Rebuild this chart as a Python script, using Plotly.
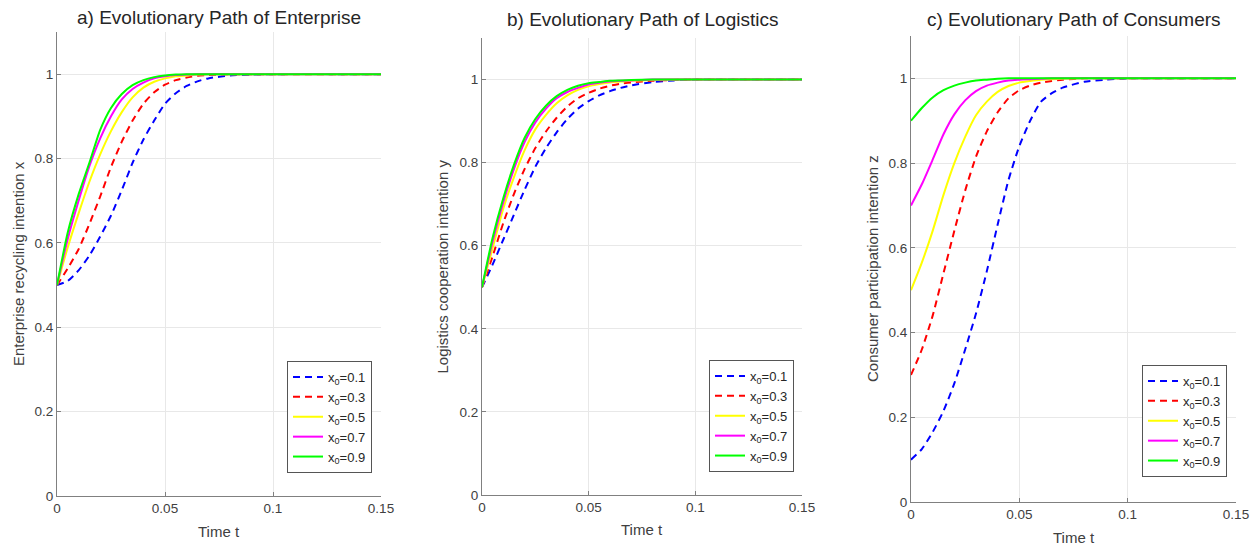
import plotly.graph_objects as go

# page offset of the plot inside the browser body (default 8px body margin)
OFF = 8
W, H = 1259 - OFF, 546 - OFF

# time grid (shared)
T = [0, 0.005, 0.01, 0.015, 0.02, 0.025, 0.03, 0.035, 0.04, 0.045, 0.05,
     0.055, 0.06, 0.065, 0.07, 0.08, 0.09, 0.1, 0.15]

LABELS = ["x<sub>0</sub>=0.1", "x<sub>0</sub>=0.3", "x<sub>0</sub>=0.5",
          "x<sub>0</sub>=0.7", "x<sub>0</sub>=0.9"]
COLORS = ["#0000ff", "#ff0000", "#ffff00", "#ff00ff", "#00ff00"]
DASHES = ["7px,5px", "7px,5px", "solid", "solid", "solid"]

# a) Enterprise recycling intention x
A_01 = [0.5, 0.51, 0.535, 0.57, 0.615, 0.665, 0.725, 0.79, 0.845, 0.89, 0.93,
        0.955, 0.972, 0.983, 0.99, 0.997, 0.999, 1, 1]
A_03 = [0.5, 0.54, 0.585, 0.645, 0.71, 0.78, 0.84, 0.89, 0.93, 0.957, 0.975,
        0.986, 0.992, 0.996, 0.998, 1, 1, 1, 1]
A_05 = [0.5, 0.59, 0.67, 0.745, 0.81, 0.865, 0.91, 0.945, 0.968, 0.982, 0.99,
        0.995, 0.997, 0.999, 1, 1, 1, 1, 1]
A_07 = [0.5, 0.61, 0.7, 0.782, 0.848, 0.9, 0.94, 0.965, 0.98, 0.99, 0.995,
        0.998, 0.999, 1, 1, 1, 1, 1, 1]
A_09 = [0.5, 0.625, 0.715, 0.79, 0.868, 0.92, 0.953, 0.974, 0.986, 0.993, 0.997,
        0.999, 1, 1, 1, 1, 1, 1, 1]

# b) Logistics cooperation intention y
B_01 = [0.5, 0.555, 0.615, 0.675, 0.735, 0.79, 0.835, 0.873, 0.905, 0.93, 0.948,
        0.962, 0.972, 0.98, 0.986, 0.994, 0.998, 1, 1]
B_03 = [0.5, 0.575, 0.655, 0.725, 0.785, 0.835, 0.875, 0.908, 0.935, 0.955, 0.968,
        0.978, 0.985, 0.99, 0.993, 0.997, 0.999, 1, 1]
B_05 = [0.5, 0.595, 0.69, 0.765, 0.83, 0.88, 0.915, 0.943, 0.962, 0.975, 0.984,
        0.989, 0.993, 0.995, 0.997, 0.999, 1, 1, 1]
B_07 = [0.5, 0.61, 0.705, 0.785, 0.85, 0.897, 0.93, 0.955, 0.97, 0.98, 0.988,
        0.992, 0.995, 0.997, 0.998, 1, 1, 1, 1]
B_09 = [0.5, 0.62, 0.715, 0.795, 0.86, 0.905, 0.937, 0.96, 0.975, 0.985, 0.991,
        0.994, 0.997, 0.998, 0.999, 1, 1, 1, 1]

# c) Consumer participation intention z
C_01 = [0.1, 0.125, 0.165, 0.215, 0.28, 0.36, 0.445, 0.545, 0.655, 0.76, 0.84,
        0.9, 0.945, 0.965, 0.978, 0.992, 0.997, 1, 1]
C_03 = [0.3, 0.36, 0.44, 0.54, 0.64, 0.735, 0.815, 0.875, 0.92, 0.953, 0.972,
        0.983, 0.99, 0.994, 0.997, 1, 1, 1, 1]
C_05 = [0.5, 0.565, 0.64, 0.725, 0.8, 0.862, 0.913, 0.945, 0.968, 0.982, 0.99,
        0.994, 0.997, 0.998, 0.999, 1, 1, 1, 1]
C_07 = [0.7, 0.75, 0.808, 0.868, 0.915, 0.948, 0.97, 0.983, 0.99, 0.995, 0.997,
        0.998, 0.999, 1, 1, 1, 1, 1, 1]
C_09 = [0.9, 0.93, 0.955, 0.972, 0.983, 0.99, 0.995, 0.997, 0.999, 1, 1,
        1, 1, 1, 1, 1, 1, 1, 1]

TITLES = ["a) Evolutionary Path of Enterprise",
          "b) Evolutionary Path of Logistics",
          "c) Evolutionary Path of Consumers"]
YTITLES = ["Enterprise recycling intention x",
           "Logistics cooperation intention y",
           "Consumer participation intention z"]
XTITLE = "Time t"
X_TICKS = [0, 0.05, 0.1, 0.15]
X_TICKTEXT = ["0", "0.05", "0.1", "0.15"]
Y_TICKS = [0, 0.2, 0.4, 0.6, 0.8, 1]
Y_TICKTEXT = ["0", "0.2", "0.4", "0.6", "0.8", "1"]

PANELS = [[A_01, A_03, A_05, A_07, A_09],
          [B_01, B_03, B_05, B_07, B_09],
          [C_01, C_03, C_05, C_07, C_09]]

# pixel boxes of plot areas in screen pixels (left, right, top, bottom)
BOXES = [(57, 381, 32, 496), (482, 802, 38, 495), (911, 1236, 36, 502)]
LEGEND_POS = [(372, 473), (794, 472), (1227, 477)]
TITLE_Y = [17, 19, 19]
XTITLE_Y = [531, 529, 537]
YTITLE_X = [18, 442, 872]

def px(x):
    return (x - OFF) / W

def py(y):
    return 1 - (y - OFF) / H

fig = go.Figure()
for p, series in enumerate(PANELS):
    sfx = "" if p == 0 else str(p + 1)
    for i, vals in enumerate(series):
        fig.add_trace(go.Scatter(
            x=T, y=vals, mode="lines", name=LABELS[i],
            line=dict(color=COLORS[i], width=2, dash=DASHES[i],
                      shape="spline", smoothing=0.6),
            xaxis="x" + sfx, yaxis="y" + sfx,
            legend="legend" + sfx, showlegend=True))

layout = dict(width=W, height=H, margin=dict(l=0, r=0, t=0, b=0, autoexpand=False),
              paper_bgcolor="white", plot_bgcolor="white",
              font=dict(family="Liberation Sans, Arial, sans-serif", color="#404040"))
annotations = []
for p, (l, r, t, b) in enumerate(BOXES):
    sfx = "" if p == 0 else str(p + 1)
    axcommon = dict(showline=True, linecolor="#808080", linewidth=1.2,
                    showgrid=True, gridcolor="#e8e8e8", gridwidth=1,
                    ticks="inside", ticklen=4, tickcolor="#808080",
                    tickfont=dict(size=13.5, color="#404040"), zeroline=False,
                    mirror=False, fixedrange=True, automargin=False)
    layout["xaxis" + sfx] = dict(domain=[px(l), px(r)], range=[0, 0.15],
                                 anchor="y" + sfx, tickvals=X_TICKS,
                                 ticktext=X_TICKTEXT, **axcommon)
    layout["yaxis" + sfx] = dict(domain=[py(b), py(t)], range=[0, 1.1],
                                 anchor="x" + sfx, tickvals=Y_TICKS,
                                 ticktext=Y_TICKTEXT, **axcommon)
    lx, ly = LEGEND_POS[p]
    layout["legend" + sfx] = dict(x=px(lx), y=py(ly), xanchor="right", yanchor="bottom",
                                  xref="paper", yref="paper",
                                  bgcolor="white", bordercolor="#555555", borderwidth=1,
                                  font=dict(size=13, color="#262626"),
                                  tracegroupgap=0, itemwidth=30)
    cx = (l + r) / 2
    annotations.append(dict(x=px(cx), y=py(TITLE_Y[p]), xref="paper", yref="paper",
                            text=TITLES[p], showarrow=False, xanchor="center",
                            yanchor="middle", font=dict(size=19, color="#262626")))
    annotations.append(dict(x=px(cx), y=py(XTITLE_Y[p]), xref="paper", yref="paper",
                            text=XTITLE, showarrow=False, xanchor="center",
                            yanchor="middle", font=dict(size=15, color="#404040")))
    annotations.append(dict(x=px(YTITLE_X[p]), y=py((t + b) / 2), xref="paper", yref="paper",
                            text=YTITLES[p], showarrow=False, textangle=-90,
                            xanchor="center", yanchor="middle",
                            font=dict(size=15, color="#404040")))
layout["annotations"] = annotations
fig.update_layout(**layout)
fig.write_html("out.html")
